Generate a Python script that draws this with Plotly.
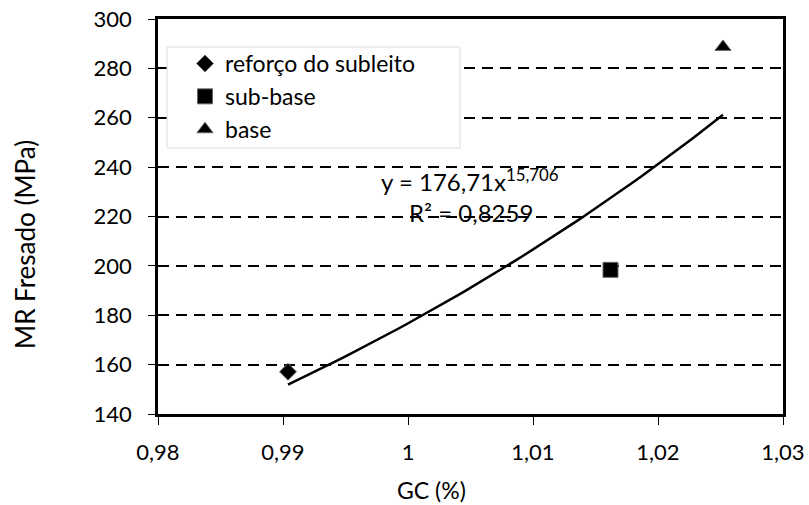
import numpy as np
import plotly.graph_objects as go

# --- data ---
series_names = ["reforço do subleito", "sub-base", "base"]
gc_values = [0.9904, 1.0162, 1.0252]          # GC (%)
mr_values = [157.1, 198.4, 288.7]             # MR Fresado (MPa)
symbols = ["diamond", "square", "triangle-up"]
marker_sizes = [13, 15, 14]

# power trend line shown on the chart: y = 176,71 x^15,706
trend_a = 176.71
trend_b = 15.706
trend_x_start = 0.9904
trend_x_end = 1.0252

x_ticks = [0.98, 0.99, 1.00, 1.01, 1.02, 1.03]
x_tick_labels = ["0,98", "0,99", "1", "1,01", "1,02", "1,03"]
y_ticks = [140, 160, 180, 200, 220, 240, 260, 280, 300]
y_tick_labels = [str(v) for v in y_ticks]

x_title = "GC (%)"
y_title = "MR Fresado (MPa)"

FONT = "Lato"

fig = go.Figure()

tx = np.linspace(trend_x_start, trend_x_end, 60)
ty = trend_a * tx ** trend_b
fig.add_trace(go.Scatter(x=tx, y=ty, mode="lines", line=dict(color="black", width=2.5),
                         showlegend=False, hoverinfo="skip"))

for name, xv, yv, sym, sz in zip(series_names, gc_values, mr_values, symbols, marker_sizes):
    fig.add_trace(go.Scatter(
        x=[xv], y=[yv], mode="markers", name=name, legendgroup=name,
        marker=dict(symbol=sym, size=sz, color="black", line=dict(color="#666666", width=1)),
    ))

L, R, T, B = 158, 26, 19, 91
W, H = 809, 505
pw, ph = W - L - R, H - T - B

def px_x(p):
    return (p - L) / pw

def px_y(p):
    return 1 - (p - T) / ph

# legend frame (covers the gridlines; the legend itself is drawn on top)
fig.add_shape(type="rect", xref="paper", yref="paper",
              x0=px_x(167), x1=px_x(460), y0=px_y(148), y1=px_y(47),
              fillcolor="white", line=dict(color="#dcdcdc", width=1), layer="above")

fig.add_annotation(x=1.0049, y=234.8, xref="x", yref="y",
                   text="y = 176,71x<sup>15,706</sup>", showarrow=False,
                   font=dict(family=FONT, size=24, color="black"))
fig.add_annotation(x=1.0050, y=221.5, xref="x", yref="y",
                   text="R² = 0,8259", showarrow=False,
                   font=dict(family=FONT, size=24, color="black"))

# axis titles (placed as in the reference, off-centre)
fig.add_annotation(x=px_x(25), y=px_y(245), xref="paper", yref="paper",
                   xanchor="center", yanchor="middle",
                   text=y_title, textangle=-90, showarrow=False,
                   font=dict(family=FONT, size=26, color="black"))
fig.add_annotation(x=px_x(431), y=px_y(490), xref="paper", yref="paper",
                   xanchor="center", yanchor="middle",
                   text=x_title, showarrow=False,
                   font=dict(family=FONT, size=23, color="black"))

fig.update_layout(
    width=W, height=H,
    margin=dict(l=L, r=R, t=T, b=B, autoexpand=False),
    paper_bgcolor="white", plot_bgcolor="white",
    font=dict(family=FONT, size=22, color="black"),
    legend=dict(x=px_x(185), y=px_y(42), xanchor="left", yanchor="top",
                bgcolor="rgba(0,0,0,0)", borderwidth=0,
                font=dict(family=FONT, size=23, color="black"),
                tracegroupgap=0, itemsizing="trace"),
    showlegend=True,
)

fig.update_xaxes(
    range=[0.98, 1.03], tickvals=x_ticks, ticktext=x_tick_labels,
    showline=True, linecolor="black", linewidth=2.5, mirror=True,
    ticks="outside", ticklen=8, tickwidth=1, tickcolor="black",
    showgrid=False, zeroline=False, automargin=False,
    tickfont=dict(family=FONT, size=22, color="black"),
    ticklabelstandoff=9,
)
fig.update_yaxes(
    range=[140, 300], tickvals=y_ticks, ticktext=y_tick_labels,
    showline=True, linecolor="black", linewidth=2.5, mirror=True,
    ticks="outside", ticklen=7, tickwidth=1, tickcolor="black",
    showgrid=True, gridcolor="black", gridwidth=2, griddash="11px,7px",
    zeroline=False, automargin=False,
    tickfont=dict(family=FONT, size=22, color="black"),
    ticklabelstandoff=12,
)

fig.write_html("out.html")
